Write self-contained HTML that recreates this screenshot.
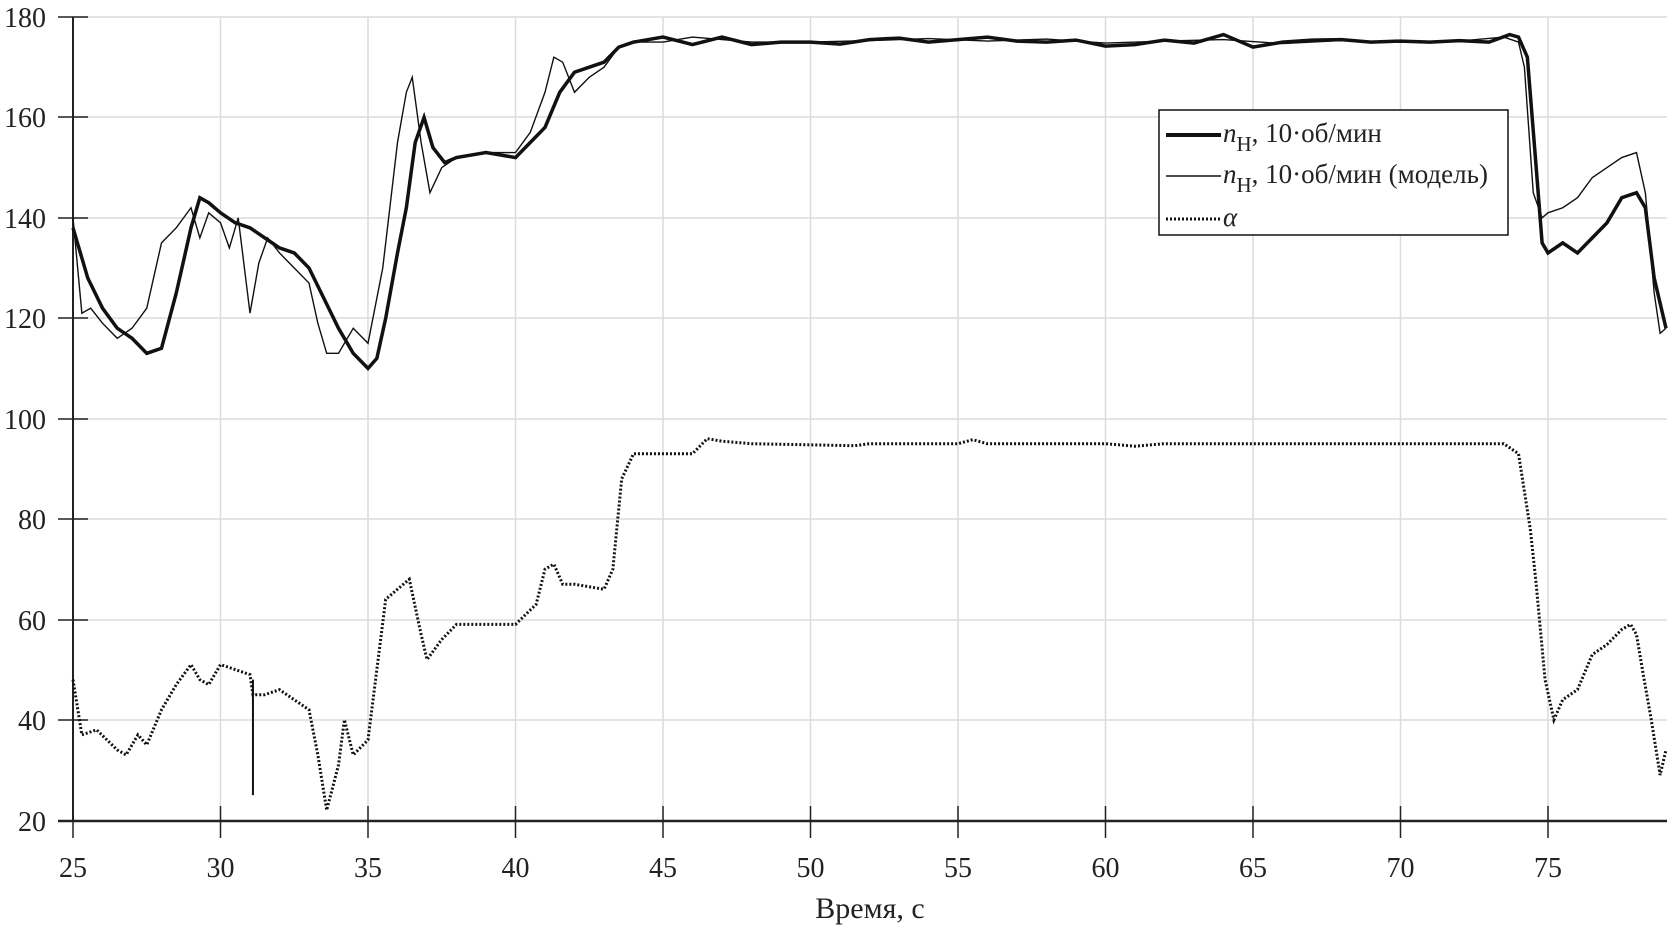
<!DOCTYPE html>
<html><head><meta charset="utf-8"><style>
body{margin:0;background:#fff;}
text{font-family:"Liberation Serif",serif;fill:#222;}
</style></head><body>
<svg width="1676" height="926" xmlns="http://www.w3.org/2000/svg">
<g stroke="#dcdcdc" stroke-width="1.5">
<line x1="73" y1="17" x2="1667" y2="17"/><line x1="73" y1="117" x2="1667" y2="117"/><line x1="73" y1="218" x2="1667" y2="218"/><line x1="73" y1="318" x2="1667" y2="318"/><line x1="73" y1="419" x2="1667" y2="419"/><line x1="73" y1="519" x2="1667" y2="519"/><line x1="73" y1="620" x2="1667" y2="620"/><line x1="73" y1="720" x2="1667" y2="720"/>
<line x1="220.5" y1="17" x2="220.5" y2="821"/><line x1="368" y1="17" x2="368" y2="821"/><line x1="515.5" y1="17" x2="515.5" y2="821"/><line x1="663" y1="17" x2="663" y2="821"/><line x1="810.5" y1="17" x2="810.5" y2="821"/><line x1="958" y1="17" x2="958" y2="821"/><line x1="1105.5" y1="17" x2="1105.5" y2="821"/><line x1="1253" y1="17" x2="1253" y2="821"/><line x1="1400.5" y1="17" x2="1400.5" y2="821"/><line x1="1548" y1="17" x2="1548" y2="821"/>
</g>
<g stroke="#222" stroke-width="1.5">
<line x1="73" y1="17" x2="73" y2="821" stroke-width="2"/><line x1="58" y1="821" x2="1667" y2="821" stroke-width="2.5"/>
<line x1="58" y1="17" x2="88" y2="17"/><line x1="58" y1="117" x2="88" y2="117"/><line x1="58" y1="218" x2="88" y2="218"/><line x1="58" y1="318" x2="88" y2="318"/><line x1="58" y1="419" x2="88" y2="419"/><line x1="58" y1="519" x2="88" y2="519"/><line x1="58" y1="620" x2="88" y2="620"/><line x1="58" y1="720" x2="88" y2="720"/>
<line x1="73" y1="806" x2="73" y2="838"/><line x1="220.5" y1="806" x2="220.5" y2="838"/><line x1="368" y1="806" x2="368" y2="838"/><line x1="515.5" y1="806" x2="515.5" y2="838"/><line x1="663" y1="806" x2="663" y2="838"/><line x1="810.5" y1="806" x2="810.5" y2="838"/><line x1="958" y1="806" x2="958" y2="838"/><line x1="1105.5" y1="806" x2="1105.5" y2="838"/><line x1="1253" y1="806" x2="1253" y2="838"/><line x1="1400.5" y1="806" x2="1400.5" y2="838"/><line x1="1548" y1="806" x2="1548" y2="838"/>
</g>
<g font-size="28" text-anchor="end">
<text x="46" y="27">180</text><text x="46" y="127">160</text><text x="46" y="228">140</text><text x="46" y="328">120</text><text x="46" y="429">100</text><text x="46" y="529">80</text><text x="46" y="630">60</text><text x="46" y="730">40</text><text x="46" y="831">20</text>
</g>
<g font-size="28" text-anchor="middle">
<text x="73" y="877">25</text><text x="220.5" y="877">30</text><text x="368" y="877">35</text><text x="515.5" y="877">40</text><text x="663" y="877">45</text><text x="810.5" y="877">50</text><text x="958" y="877">55</text><text x="1105.5" y="877">60</text><text x="1253" y="877">65</text><text x="1400.5" y="877">70</text><text x="1548" y="877">75</text>
<text x="870" y="918" font-size="30">Время, с</text>
</g>
<g transform="translate(-664.5,920.6) scale(29.5,-5.02)" fill="none" stroke="#111">
<polyline vector-effect="non-scaling-stroke" stroke-width="1.4" points="25,140 25.3,121 25.6,122 26,119 26.5,116 27,118 27.5,122 28,135 28.5,138 29,142 29.3,136 29.6,141 30,139 30.3,134 30.6,140 31,121 31.3,131 31.6,136 32,133 32.5,130 33,127 33.3,119 33.6,113 34,113 34.5,118 35,115 35.5,130 36,155 36.3,165 36.5,168 36.8,155 37.1,145 37.5,150 38,152 39,153 40,153 40.5,157 41,165 41.3,172 41.6,171 42,165 42.5,168 43,170 43.5,174 44,175 45,175 46,176 48,175 50,175 52,175.3 54,175.7 56,175.2 58,175.6 60,174.8 62,175.2 64,175.5 66,174.7 68,175.3 70,175 72,175.2 73.5,176 74,175 74.2,170 74.5,145 74.8,140 75,141 75.5,142 76,144 76.5,148 77,150 77.5,152 78,153 78.3,145 78.6,125 78.8,117 79,118"/>
<polyline vector-effect="non-scaling-stroke" stroke-width="3.5" points="25,138 25.5,128 26,122 26.5,118 27,116 27.5,113 28,114 28.5,125 29,138 29.3,144 29.6,143 30,141 30.5,139 31,138 31.5,136 32,134 32.5,133 33,130 33.5,124 34,118 34.5,113 35,110 35.3,112 35.6,120 36,133 36.3,142 36.6,155 36.9,160 37.2,154 37.6,151 38,152 39,153 40,152 40.5,155 41,158 41.5,165 42,169 42.5,170 43,171 43.5,174 44,175 45,176 46,174.5 47,176 48,174.5 49,175 50,175 51,174.6 52,175.5 53,175.8 54,175 55,175.5 56,176 57,175.2 58,175 59,175.4 60,174.2 61,174.5 62,175.4 63,174.8 64,176.5 65,174 66,175 67,175.4 68,175.5 69,175 70,175.2 71,175 72,175.3 73,175 73.7,176.5 74,176 74.3,172 74.6,150 74.8,135 75,133 75.5,135 76,133 76.5,136 77,139 77.5,144 78,145 78.3,142 78.6,128 79,118"/>
<polyline vector-effect="non-scaling-stroke" stroke-width="3" stroke-dasharray="2 2" points="25,48 25.3,37 25.8,38 26.5,34 26.8,33 27.2,37 27.5,35 28,42 28.5,47 29,51 29.3,48 29.6,47 30,51 30.5,50 31,49 31.1,45 31.5,45 32,46 32.5,44 33,42 33.3,33 33.6,22 34,31 34.2,40 34.5,33 35,36 35.3,50 35.6,64 36,66 36.4,68 36.8,57 37,52 37.5,56 38,59 39,59 40,59 40.7,63 41,70 41.3,71 41.6,67 42,67 43,66 43.3,70 43.6,88 44,93 46,93 46.5,96 47,95.5 48,95 51.5,94.6 52,95 55,95 55.5,95.8 56,95 60,95 61,94.5 62,95 65,95 70,95 73.5,95 74,93 74.4,78 74.6,67 74.9,48 75.2,40 75.5,44 76,46 76.5,53 77,55 77.5,58 77.8,59 78,57 78.2,50 78.5,40 78.8,29 79,34"/>
<line vector-effect="non-scaling-stroke" stroke-width="2" x1="31.1" y1="48" x2="31.1" y2="25"/>
</g>
<rect x="1159" y="110" width="349" height="125" fill="#fff" stroke="#111" stroke-width="1.5"/>
<line x1="1166" y1="135" x2="1221" y2="135" stroke="#111" stroke-width="4"/>
<line x1="1166" y1="176" x2="1221" y2="176" stroke="#111" stroke-width="1.4"/>
<line x1="1166" y1="219" x2="1221" y2="219" stroke="#111" stroke-width="3" stroke-dasharray="2 2"/>
<g font-size="27">
<text x="1223" y="142"><tspan font-style="italic">n</tspan><tspan font-size="21" dy="9">Н</tspan><tspan dy="-9">, 10·об/мин</tspan></text>
<text x="1223" y="183"><tspan font-style="italic">n</tspan><tspan font-size="21" dy="9">Н</tspan><tspan dy="-9">, 10·об/мин (модель)</tspan></text>
<text x="1223" y="226" font-style="italic">α</text>
</g>
</svg>
</body></html>
